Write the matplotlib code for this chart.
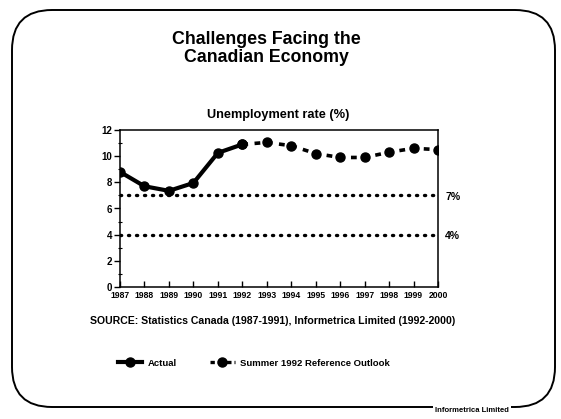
import matplotlib
matplotlib.use("Agg")
import matplotlib.pyplot as plt
from matplotlib.patches import FancyBboxPatch
from matplotlib.lines import Line2D
from matplotlib.ticker import MultipleLocator

plt.rcParams['font.family'] = ['Liberation Sans', 'DejaVu Sans']
plt.rcParams['font.weight'] = 'bold'

years = list(range(1987, 2001))
actual_years = [1987, 1988, 1989, 1990, 1991, 1992]
actual_vals = [8.8, 7.7, 7.35, 7.95, 10.25, 10.9]
outlook_years = [1992, 1993, 1994, 1995, 1996, 1997, 1998, 1999, 2000]
outlook_vals = [10.9, 11.05, 10.8, 10.2, 9.9, 9.9, 10.3, 10.6, 10.5]
ref_levels = [7, 4]
ref_labels = ["7%", "4%"]
ytick_vals = [0, 2, 4, 6, 8, 10, 12]

W, H = 561, 419
fig = plt.figure(figsize=(W / 100, H / 100), dpi=100)

# overlay for frame and texts (pixel coordinates)
ov = fig.add_axes([0, 0, 1, 1], zorder=0)
ov.set_xlim(0, W)
ov.set_ylim(H, 0)
ov.axis('off')

box = FancyBboxPatch((52, 50), 555 - 52 - 40, 407 - 50 - 40,
                     boxstyle="round,pad=40", fc='none', ec='black', lw=1.4)
ov.add_patch(box)
ov.text(472, 410, "Informetrica Limited", ha='center', va='center', fontsize=5.5,
        fontweight='bold', bbox=dict(fc='white', ec='none', pad=1.5))

ov.text(266, 40, "Challenges Facing the", ha='center', va='center',
        fontsize=12.8, fontweight='bold')
ov.text(266, 58, "Canadian Economy", ha='center', va='center',
        fontsize=12.8, fontweight='bold')
ov.text(278, 115, "Unemployment rate (%)", ha='center', va='center',
        fontsize=9.2, fontweight='bold')
ov.text(273, 321, "SOURCE: Statistics Canada (1987-1991), Informetrica Limited (1992-2000)",
        ha='center', va='center', fontsize=7.6, fontweight='bold')

# main axes
left, right, top, bottom = 120, 438, 130, 287
ax = fig.add_axes([left / W, 1 - bottom / H, (right - left) / W, (bottom - top) / H], zorder=1)
ax.patch.set_alpha(0)

for lvl, lab in zip(ref_levels, ref_labels):
    ax.plot([years[0], years[-1]], [lvl, lvl], color='black', lw=2.4,
            linestyle=(0, (0.35, 2.05)), dash_capstyle='round', zorder=1)
    ax.text(years[-1] + 0.3, lvl - 0.1, lab, ha='left', va='center',
            fontsize=7.5, fontweight='bold', clip_on=False)

l1, = ax.plot(actual_years, actual_vals, color='black', lw=3, marker='o',
              markersize=6.5, solid_capstyle='round', label='Actual', zorder=3)
l2, = ax.plot(outlook_years, outlook_vals, color='black', lw=2.6,
              linestyle=(0, (1.6, 1.8)), marker='o', markersize=6.5,
              label='Summer 1992 Reference Outlook', zorder=3)

ax.set_xlim(years[0], years[-1])
ax.set_ylim(0, 12)
ax.set_xticks(years)
ax.set_xticklabels([str(y) for y in years], fontsize=6.2, fontweight='bold')
ax.set_yticks(ytick_vals)
ax.set_yticklabels([str(v) for v in ytick_vals], fontsize=7, fontweight='bold')
ax.yaxis.set_minor_locator(MultipleLocator(1))
ax.tick_params(axis='x', direction='in', length=4, width=1, pad=3)
ax.tick_params(axis='y', which='major', direction='out', length=4, width=1, pad=1.5)
ax.tick_params(axis='y', which='minor', direction='inout', length=3, width=0.8)
for s in ax.spines.values():
    s.set_linewidth(1.1)

h1 = Line2D([], [], color='black', lw=3, marker='o', markersize=6.5)
h2 = Line2D([], [], color='black', lw=2.4, linestyle=(0.3, (1.6, 0.9)),
            marker='o', markersize=6.5)
fig.legend(handles=[h1, h2], labels=[l1.get_label(), l2.get_label()],
           loc='center', bbox_to_anchor=(254 / W, 1 - 363 / H),
           ncol=2, frameon=False, handlelength=2.6,
           columnspacing=3.5, handletextpad=0.6, prop={'weight': 'bold', 'size': 6.8})

fig.savefig("out.png", dpi=100)
